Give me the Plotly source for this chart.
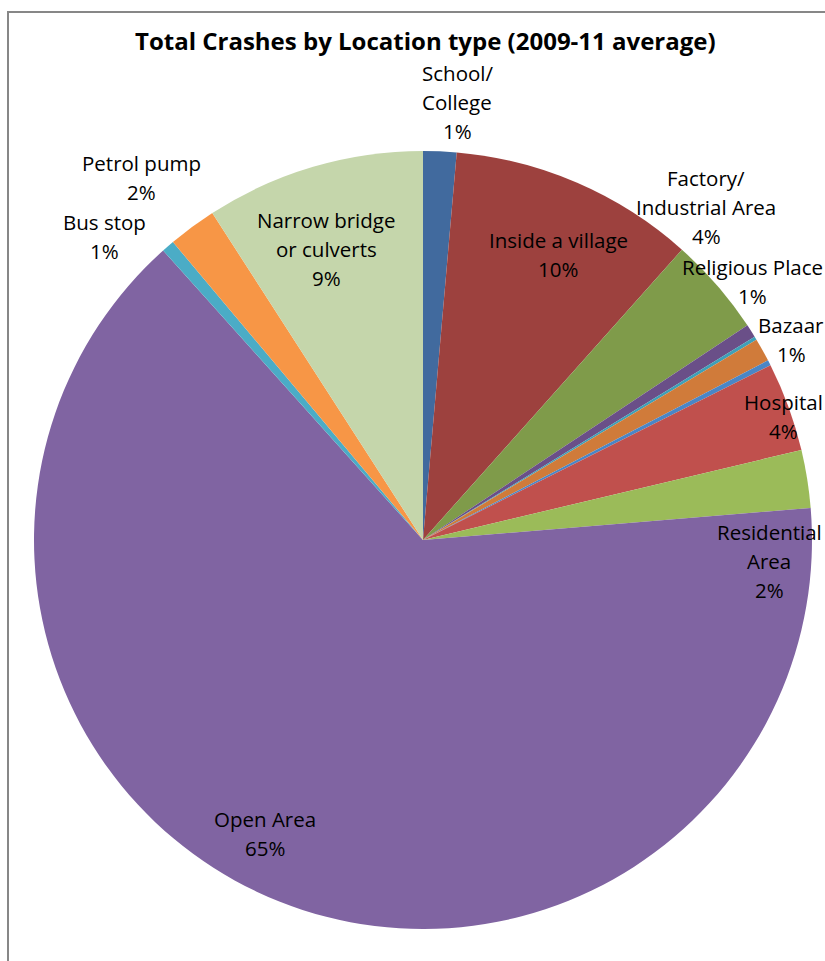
import plotly.graph_objects as go

# ---- data ----
categories = ["School/College", "Inside a village", "Factory/Industrial Area",
              "Religious Place", "Other (a)", "Bazaar", "Other (b)", "Hospital",
              "Residential Area", "Open Area", "Bus stop", "Petrol pump",
              "Narrow bridge or culverts"]
values = [1.38, 10.2, 4.1, 0.55, 0.14, 0.97, 0.22, 3.7, 2.4, 64.6, 0.53, 2.0, 9.1]
label_lines = [["School/", "College"], ["Inside a village"], ["Factory/", "Industrial Area"],
               ["Religious Place"], None, ["Bazaar"], None, ["Hospital"],
               ["Residential", "Area"], ["Open Area"], ["Bus stop"], ["Petrol pump"],
               ["Narrow bridge", "or culverts"]]
colors = ["#416A9E", "#9D413E", "#7F9B4A", "#6A4F88", "#3EA0B8", "#D07B3A", "#4A86C6",
          "#C0504D", "#9BBB59", "#8064A2", "#4BACC6", "#F79646", "#C5D6AB"]

# label anchor (pixel centre of first line) — layout only
label_pos = [(457, 73), (558, 240), (706, 178), (752, 267), None, (791, 325), None,
             (783, 402), (769, 532), (265, 819), (104, 222), (141, 163), (326, 220)]

W, H = 825, 961
LINE = 29
FONT = "Open Sans, Noto Sans, sans-serif"

fig = go.Figure(go.Pie(
    labels=categories, values=values, sort=False, direction="clockwise", rotation=0,
    marker=dict(colors=colors, line=dict(width=0)),
    textinfo="none", hoverinfo="label+percent", showlegend=False,
    domain=dict(x=[34 / W, 812 / W], y=[1 - 929 / H, 1 - 151 / H]),
))

total = sum(values)
ann = []
for lines, pos, v in zip(label_lines, label_pos, values):
    if lines is None:
        continue
    pct = f"{round(v / total * 100)}%"
    all_lines = lines + [pct]
    x0, y0 = pos
    for i, t in enumerate(all_lines):
        ann.append(dict(x=x0 / W, y=1 - (y0 + i * LINE) / H, xref="paper", yref="paper",
                        text=t, showarrow=False, xanchor="center", yanchor="middle",
                        font=dict(family=FONT, size=20.5, color="#000000")))

ann.append(dict(x=425 / W, y=1 - 40 / H, xref="paper", yref="paper",
                text="<b>Total Crashes by Location type (2009-11 average)</b>",
                showarrow=False, xanchor="center", yanchor="middle",
                font=dict(family=FONT, size=24, color="#000000")))

fig.update_layout(
    width=W, height=H, margin=dict(l=0, r=0, t=0, b=0),
    paper_bgcolor="white", plot_bgcolor="white",
    annotations=ann,
    shapes=[dict(type="rect", xref="paper", yref="paper", x0=8 / W, y0=1 - 12 / H,
                 x1=1.2, y1=-0.2, line=dict(color="#878787", width=2), layer="below")],
)

fig.write_html("out.html", config={"displayModeBar": False})

# remove the default page margin so the figure sits at the window's top-left corner
with open("out.html", encoding="utf-8") as f:
    html = f.read()
html = html.replace("<head>", "<head><style>html,body{margin:0;padding:0;overflow:hidden;}</style>", 1)
with open("out.html", "w", encoding="utf-8") as f:
    f.write(html)
